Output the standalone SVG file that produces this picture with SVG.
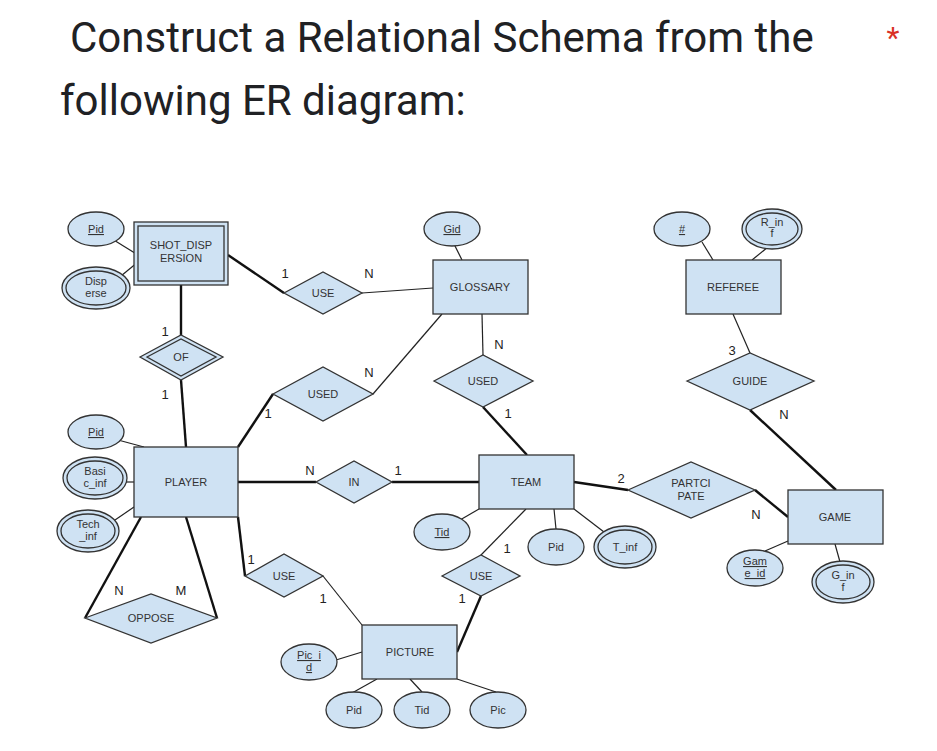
<svg xmlns="http://www.w3.org/2000/svg" width="937" height="751" viewBox="0 0 937 751">
<style>
.s{fill:#cfe2f3;stroke:#333;stroke-width:1.3}
.a{font-family:"Liberation Sans",Arial,sans-serif;font-size:11px;fill:#333;text-anchor:middle}
.u{text-decoration:underline}
.c{font-family:"Liberation Sans",Arial,sans-serif;font-size:13px;fill:#222;text-anchor:middle}
.thin{stroke:#222;stroke-width:1.2;fill:none}
.thick{stroke:#111;stroke-width:2.4;fill:none}
.h{font-family:Roboto,"Liberation Sans",sans-serif;font-size:42px;fill:#202124}
</style>
<rect width="937" height="751" fill="#fff"/>
<text class="h" x="70" y="52">Construct a Relational Schema from the</text>
<text class="h" x="60" y="115">following ER diagram:</text>
<text x="893" y="48" font-family="Roboto,sans-serif" font-size="30" fill="#d93025" text-anchor="middle">*</text>
<g id="connectors">
<line class="thin" x1="96" y1="229" x2="138" y2="255"/>
<line class="thin" x1="110" y1="285" x2="138" y2="262"/>
<line class="thick" x1="228" y1="255" x2="284" y2="293"/>
<line class="thin" x1="362" y1="293" x2="433" y2="288"/>
<line class="thin" x1="452" y1="240" x2="462" y2="260"/>
<line class="thick" x1="181" y1="285" x2="181" y2="335"/>
<line class="thick" x1="181" y1="380" x2="186" y2="447"/>
<line class="thick" x1="238" y1="447" x2="273" y2="394"/>
<line class="thin" x1="373" y1="394" x2="442" y2="314"/>
<line class="thin" x1="482" y1="314" x2="483" y2="355"/>
<line class="thick" x1="483" y1="407" x2="527" y2="455"/>
<line class="thick" x1="238" y1="482" x2="316" y2="482"/>
<line class="thick" x1="392" y1="482" x2="479" y2="482"/>
<line class="thin" x1="118" y1="440" x2="144" y2="447"/>
<line class="thin" x1="124" y1="482" x2="134" y2="482"/>
<line class="thin" x1="115" y1="520" x2="134" y2="507"/>
<line class="thick" x1="141" y1="517" x2="85" y2="618"/>
<line class="thick" x1="186" y1="517" x2="217" y2="618"/>
<line class="thick" x1="238" y1="517" x2="245" y2="576"/>
<line class="thin" x1="323" y1="576" x2="362" y2="625"/>
<line class="thin" x1="526" y1="509" x2="481" y2="555"/>
<line class="thick" x1="481" y1="596" x2="457" y2="652"/>
<line class="thin" x1="479" y1="509" x2="460" y2="520"/>
<line class="thin" x1="554" y1="509" x2="556" y2="529"/>
<line class="thin" x1="574" y1="509" x2="604" y2="532"/>
<line class="thick" x1="574" y1="482" x2="628" y2="490"/>
<line class="thick" x1="755" y1="490" x2="788" y2="517"/>
<line class="thin" x1="713" y1="260" x2="702" y2="242"/>
<line class="thin" x1="752" y1="260" x2="768" y2="247"/>
<line class="thin" x1="733" y1="314" x2="750" y2="353"/>
<line class="thick" x1="750" y1="410" x2="836" y2="490"/>
<line class="thin" x1="788" y1="541" x2="765" y2="551"/>
<line class="thin" x1="835" y1="544" x2="840" y2="562"/>
<line class="thin" x1="362" y1="652" x2="336" y2="660"/>
<line class="thin" x1="377" y1="679" x2="352" y2="693"/>
<line class="thin" x1="410" y1="679" x2="422" y2="692"/>
<line class="thin" x1="457" y1="679" x2="496" y2="692"/>
</g>
<g id="labels">
<text class="c" x="285" y="278">1</text><text class="c" x="369" y="278">N</text>
<text class="c" x="165" y="336">1</text><text class="c" x="165" y="399">1</text>
<text class="c" x="268" y="418">1</text><text class="c" x="369" y="377">N</text>
<text class="c" x="499" y="349">N</text><text class="c" x="508" y="418">1</text>
<text class="c" x="310" y="475">N</text><text class="c" x="398" y="475">1</text>
<text class="c" x="119" y="595">N</text><text class="c" x="181" y="595">M</text>
<text class="c" x="251" y="564">1</text><text class="c" x="323" y="603">1</text>
<text class="c" x="507" y="553">1</text><text class="c" x="462" y="603">1</text>
<text class="c" x="621" y="483">2</text><text class="c" x="756" y="519">N</text>
<text class="c" x="732" y="355">3</text><text class="c" x="784" y="419">N</text>
</g>
<g id="shot_dispersion"><rect x="134" y="222" width="94" height="63" class="s"/><rect x="138" y="226" width="86" height="55" class="s"/><text class="a" x="181" y="249">SHOT_DISP</text><text class="a" x="181" y="262">ERSION</text></g>
<g id="sd_pid"><ellipse cx="96" cy="229" rx="28" ry="17" class="s"/><text class="a u" x="96" y="233">Pid</text></g>
<g id="sd_disperse"><ellipse cx="96" cy="288" rx="34" ry="21" class="s"/><ellipse cx="96" cy="288" rx="30" ry="17" class="s"/><text class="a" x="96" y="285">Disp</text><text class="a" x="96" y="297">erse</text></g>
<g id="use1"><polygon points="284,293 323,272 362,293 323,314" class="s"/><text class="a" x="323" y="297">USE</text></g>
<g id="glossary"><rect x="433" y="260" width="95" height="54" class="s"/><text class="a" x="480" y="291">GLOSSARY</text></g>
<g id="gid"><ellipse cx="452" cy="229" rx="28" ry="17" class="s"/><text class="a u" x="452" y="233">Gid</text></g>
<g id="of"><polygon points="140,357 181,335 223,357 181,380" class="s"/><polygon points="147,357 181,339 216,357 181,376" class="s"/><text class="a" x="181" y="361">OF</text></g>
<g id="used1"><polygon points="273,394 323,367 373,394 323,421" class="s"/><text class="a" x="323" y="398">USED</text></g>
<g id="used2"><polygon points="434,381 483,355 533,381 483,407" class="s"/><text class="a" x="483" y="385">USED</text></g>
<g id="player"><rect x="134" y="447" width="104" height="70" class="s"/><text class="a" x="186" y="486">PLAYER</text></g>
<g id="p_pid"><ellipse cx="96" cy="432" rx="28" ry="17" class="s"/><text class="a u" x="96" y="436">Pid</text></g>
<g id="p_basic"><ellipse cx="95" cy="478" rx="32" ry="21" class="s"/><ellipse cx="95" cy="478" rx="28" ry="17" class="s"/><text class="a" x="95" y="475">Basi</text><text class="a" x="95" y="487">c_inf</text></g>
<g id="p_tech"><ellipse cx="88" cy="531" rx="31" ry="21" class="s"/><ellipse cx="88" cy="531" rx="27" ry="17" class="s"/><text class="a" x="88" y="528">Tech</text><text class="a" x="88" y="540">_inf</text></g>
<g id="in"><polygon points="316,482 354,461 392,482 354,503" class="s"/><text class="a" x="354" y="486">IN</text></g>
<g id="team"><rect x="479" y="455" width="95" height="54" class="s"/><text class="a" x="526" y="486">TEAM</text></g>
<g id="oppose"><polygon points="85,618 151,594 217,618 151,643" class="s"/><text class="a" x="151" y="622">OPPOSE</text></g>
<g id="use2"><polygon points="245,576 284,554 323,576 284,597" class="s"/><text class="a" x="284" y="580">USE</text></g>
<g id="use3"><polygon points="442,576 481,555 520,576 481,596" class="s"/><text class="a" x="481" y="580">USE</text></g>
<g id="picture"><rect x="362" y="625" width="95" height="54" class="s"/><text class="a" x="410" y="656">PICTURE</text></g>
<g id="pic_id"><ellipse cx="309" cy="662" rx="28" ry="18" class="s"/><text class="a u" x="309" y="659">Pic_i</text><text class="a u" x="309" y="671">d</text></g>
<g id="pic_pid"><ellipse cx="354" cy="710" rx="28" ry="18" class="s"/><text class="a" x="354" y="714">Pid</text></g>
<g id="pic_tid"><ellipse cx="422" cy="710" rx="28" ry="18" class="s"/><text class="a" x="422" y="714">Tid</text></g>
<g id="pic_pic"><ellipse cx="498" cy="710" rx="28" ry="18" class="s"/><text class="a" x="498" y="714">Pic</text></g>
<g id="t_tid"><ellipse cx="442" cy="532" rx="28" ry="18" class="s"/><text class="a u" x="442" y="536">Tid</text></g>
<g id="t_pid"><ellipse cx="556" cy="547" rx="28" ry="18" class="s"/><text class="a" x="556" y="551">Pid</text></g>
<g id="t_inf"><ellipse cx="625" cy="547" rx="31" ry="21" class="s"/><ellipse cx="625" cy="547" rx="27" ry="17" class="s"/><text class="a" x="625" y="551">T_inf</text></g>
<g id="participate"><polygon points="628,490 691,462 755,490 691,518" class="s"/><text class="a" x="691" y="487">PARTCI</text><text class="a" x="691" y="500">PATE</text></g>
<g id="game"><rect x="788" y="490" width="95" height="54" class="s"/><text class="a" x="835" y="521">GAME</text></g>
<g id="game_id"><ellipse cx="755" cy="568" rx="28" ry="18" class="s"/><text class="a u" x="755" y="565">Gam</text><text class="a u" x="755" y="577">e_id</text></g>
<g id="g_inf"><ellipse cx="843" cy="582" rx="31" ry="21" class="s"/><ellipse cx="843" cy="582" rx="27" ry="17" class="s"/><text class="a" x="843" y="579">G_in</text><text class="a" x="843" y="591">f</text></g>
<g id="referee"><rect x="686" y="260" width="95" height="54" class="s"/><text class="a" x="733" y="291">REFEREE</text></g>
<g id="r_num"><ellipse cx="682" cy="229" rx="28" ry="17" class="s"/><text class="a u" x="682" y="233">#</text></g>
<g id="r_inf"><ellipse cx="772" cy="229" rx="30" ry="20" class="s"/><ellipse cx="772" cy="229" rx="26" ry="16" class="s"/><text class="a" x="772" y="226">R_in</text><text class="a" x="772" y="237">f</text></g>
<g id="guide"><polygon points="687,381 750,353 814,381 750,410" class="s"/><text class="a" x="750" y="385">GUIDE</text></g>
</svg>
